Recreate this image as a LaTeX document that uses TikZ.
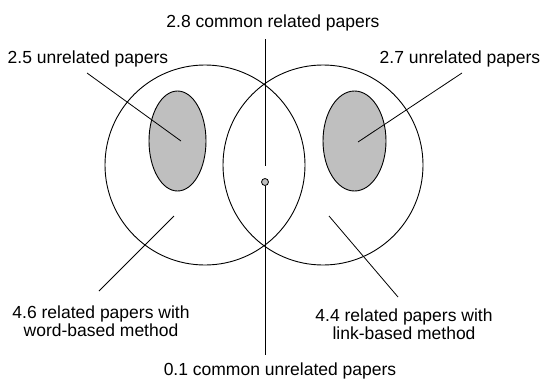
\documentclass[tikz,border=0pt]{standalone}
\usepackage{fontspec}
\setmainfont{Liberation Sans}
\usepackage{tikz}

\begin{document}
\begin{tikzpicture}[x=1pt,y=-1pt,font=\fontsize{17.5}{17.5}\selectfont,
  lbl/.style={inner sep=0pt,anchor=base,align=center},
  ring/.style={draw=black,line width=0.9pt},
  blob/.style={draw=black,fill=gray!50,line width=0.9pt},
  lead/.style={draw=black,line width=0.8pt}]
\useasboundingbox (0,0) rectangle (540,378);
\draw[ring] (205,165) circle[radius=100pt];
\draw[ring] (323,165) circle[radius=100pt];
\draw[blob] (177.5,141) ellipse[x radius=28.5pt,y radius=50pt];
\draw[blob] (354.5,141) ellipse[x radius=31.5pt,y radius=50pt];
\node[circle,draw=black,fill=gray!50,line width=0.8pt,inner sep=0pt,minimum size=7pt] (dot) at (265,182) {};
\node[lbl] (common) at (273,27) {2.8 common related papers};
\node[lbl] (unrelL) at (88,63) {2.5 unrelated papers};
\node[lbl] (unrelR) at (460,63) {2.7 unrelated papers};
\node[lbl] (word) at (101,336) {4.6 related papers with\\word-based method};
\node[lbl] (link) at (404,339) {4.4 related papers with\\link-based method};
\node[lbl] (commonU) at (280,375) {0.1 common unrelated papers};
\coordinate (topA) at (265,39);
\coordinate (topB) at (265,166);
\coordinate (botB) at (265,355);
\coordinate (ulA) at (87,73);
\coordinate (ulB) at (181,141);
\coordinate (urA) at (462,73);
\coordinate (urB) at (358,142);
\coordinate (llA) at (99,291);
\coordinate (llB) at (174,216);
\coordinate (lrA) at (398,297);
\coordinate (lrB) at (329,216);
\draw[lead] (topA) -- (topB);
\draw[lead] (dot) -- (botB);
\draw[lead] (ulA) -- (ulB);
\draw[lead] (urA) -- (urB);
\draw[lead] (llA) -- (llB);
\draw[lead] (lrA) -- (lrB);
\end{tikzpicture}
\end{document}
